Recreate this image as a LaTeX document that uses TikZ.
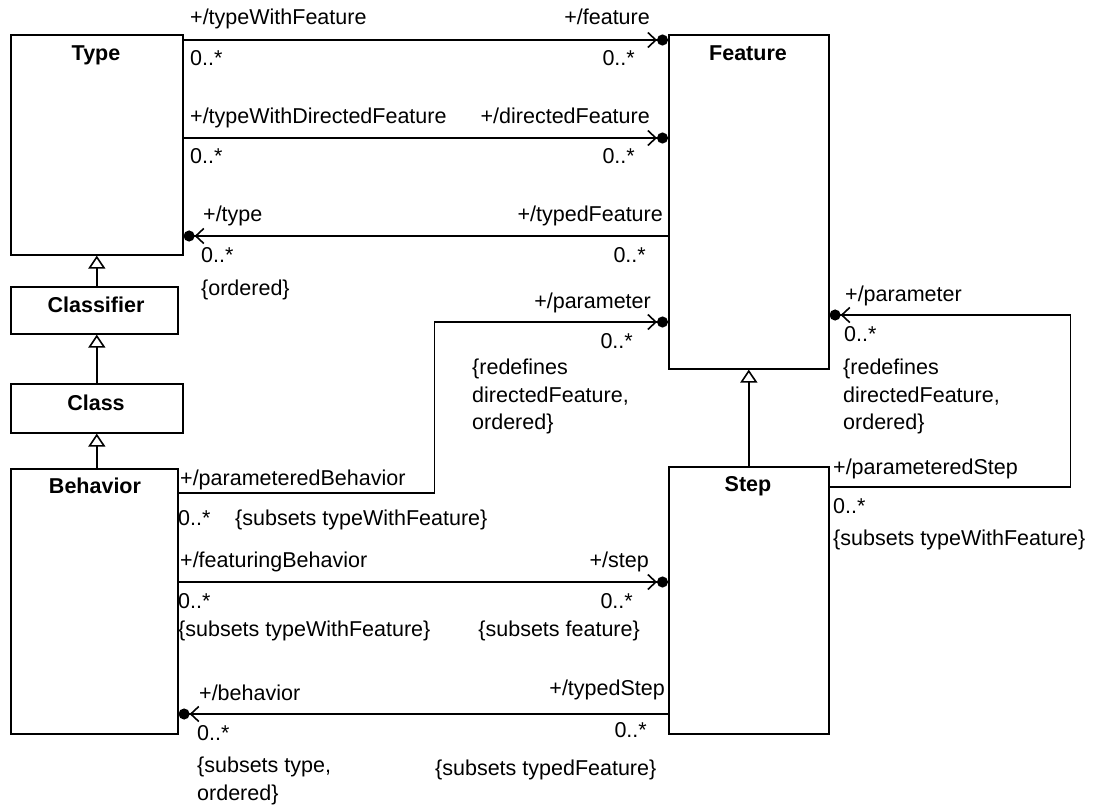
\documentclass[tikz,border=0pt]{standalone}
\usepackage{fontspec}
\setmainfont{Liberation Sans}
\usepackage{tikz}
\usetikzlibrary{positioning, arrows.meta, calc}

\tikzset{
  umlbox/.style={draw, line width=1.6pt, inner sep=0pt, anchor=north west},
  boxtitle/.style={font=\fontsize{21.5}{27.5}\selectfont\bfseries, inner sep=0pt, anchor=base},
  lbl/.style={inner sep=0pt, anchor=base west},
  rlbl/.style={inner sep=0pt, anchor=base east},
  note/.style={inner sep=0pt, anchor=north west, align=left},
  assoc/.style={line width=1.6pt, -{Straight Barb[length=8pt,width=15pt,line width=1.6pt] Circle[length=11pt]}},
  gen/.style={line width=1.6pt, -{Triangle[open,fill=white,length=13pt,width=17pt,line width=1.6pt]}}
}

\begin{document}
\begin{tikzpicture}[x=1pt, y=-1pt, font=\fontsize{21.5}{27.5}\selectfont]
\useasboundingbox (0,0) rectangle (1095,808);

% classes
\node[umlbox, minimum width=172pt, minimum height=220pt] (type) at (10,34) {};
\node[umlbox, minimum width=167pt, minimum height=47pt] (classifier) at (10,286) {};
\node[umlbox, minimum width=172pt, minimum height=49pt] (class) at (10,383) {};
\node[umlbox, minimum width=167pt, minimum height=265pt] (behavior) at (10,468) {};
\node[umlbox, minimum width=160pt, minimum height=334pt] (feature) at (668,34) {};
\node[umlbox, minimum width=160pt, minimum height=267pt] (step) at (668,466) {};

\node[boxtitle] (typeT) at (96,60) {Type};
\node[boxtitle] (classifierT) at (96,312) {Classifier};
\node[boxtitle] (classT) at (96,410) {Class};
\node[boxtitle] (behaviorT) at (95,493) {Behavior};
\node[boxtitle] (featureT) at (748,60) {Feature};
\node[boxtitle] (stepT) at (748,491) {Step};

% generalizations
\draw[gen] (classifier.north -| type.south) -- (type.south);
\draw[gen] (class.north -| type.south) -- (classifier.south -| type.south);
\draw[gen] (behavior.north -| type.south) -- (class.south -| type.south);
\draw[gen] (step.north) -- (feature.south);

% associations
\draw[assoc] ([yshift=-6pt]type.north east) -- ([yshift=-6pt]feature.north west);
\draw[assoc] ([yshift=-104pt]type.north east) -- ([yshift=-104pt]feature.north west);
\draw[assoc] ([yshift=-202pt]feature.north west) -- ([yshift=-202pt]type.north east);
\draw[assoc] ([yshift=-25pt]behavior.north east) -- ++(256,0) |- ([yshift=-288pt]feature.north west);
\draw[assoc] ([yshift=-114pt]behavior.north east) -- ([yshift=-116pt]step.north west);
\draw[assoc] ([yshift=-248pt]step.north west) -- ([yshift=-246pt]behavior.north east);
\draw[assoc] ([yshift=-21pt]step.north east) -- ++(241,0) |- ([yshift=-281pt]feature.north east);

% role names and multiplicities
\node[lbl] (twf) at (190,25) {+/typeWithFeature};
\node[rlbl] (feat) at (650,25) {+/feature};
\node[lbl] (m1a) at (190,66) {0..*};
\node[rlbl] (m1b) at (635,66) {0..*};

\node[lbl] (twdf) at (190,123) {+/typeWithDirectedFeature};
\node[rlbl] (dfeat) at (650,123) {+/directedFeature};
\node[lbl] (m2a) at (190,163) {0..*};
\node[rlbl] (m2b) at (635,163) {0..*};

\node[lbl] (typ) at (203,221) {+/type};
\node[rlbl] (tfeat) at (663,221) {+/typedFeature};
\node[lbl] (m3a) at (201,262) {0..*};
\node[rlbl] (m3b) at (646,262) {0..*};
\node[lbl] (ord) at (201,295) {\{ordered\}};

\node[rlbl] (par) at (651,308) {+/parameter};
\node[rlbl] (m4b) at (633,348) {0..*};
\node[note] (redef) at (472,359) {\{redefines\\directedFeature,\\ordered\}};
\node[lbl] (pbeh) at (180,485) {+/parameteredBehavior};
\node[lbl] (m4a) at (178,525) {0..*};
\node[lbl] (sub4) at (235,525) {\{subsets typeWithFeature\}};

\node[lbl] (par2) at (845,301) {+/parameter};
\node[lbl] (m7b) at (844,341) {0..*};
\node[note] (redef2) at (843,359) {\{redefines\\directedFeature,\\ordered\}};
\node[lbl] (pstep) at (833,474) {+/parameteredStep};
\node[lbl] (m7a) at (833,513) {0..*};
\node[lbl] (sub7) at (833,545) {\{subsets typeWithFeature\}};

\node[lbl] (fbeh) at (180,567) {+/featuringBehavior};
\node[rlbl] (stp) at (649,567) {+/step};
\node[lbl] (m5a) at (178,608) {0..*};
\node[rlbl] (m5b) at (633,608) {0..*};
\node[lbl] (sub5a) at (178,636) {\{subsets typeWithFeature\}};
\node[rlbl] (sub5b) at (640,636) {\{subsets feature\}};

\node[lbl] (beh) at (199,700) {+/behavior};
\node[rlbl] (tstep) at (665,695) {+/typedStep};
\node[lbl] (m6a) at (197,740) {0..*};
\node[rlbl] (m6b) at (647,737) {0..*};
\node[note] (sub6a) at (197,757) {\{subsets type,\\ordered\}};
\node[lbl] (sub6b) at (435,775) {\{subsets typedFeature\}};
\end{tikzpicture}
\end{document}
